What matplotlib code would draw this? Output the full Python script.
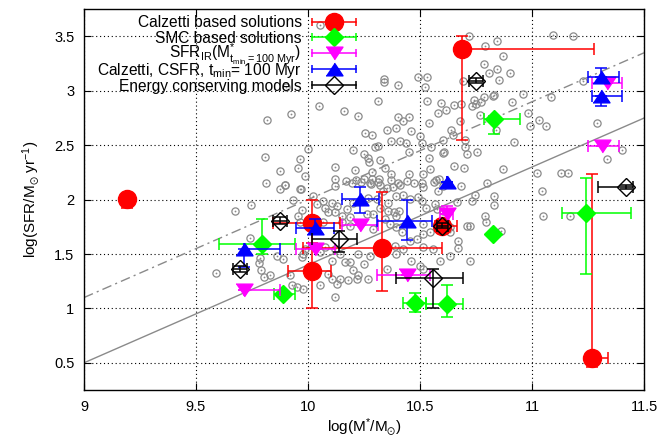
import matplotlib
matplotlib.use('Agg')
import matplotlib.pyplot as plt

plt.rcParams['font.family'] = ['Liberation Sans', 'DejaVu Sans']
plt.rcParams['mathtext.fontset'] = 'custom'
plt.rcParams['mathtext.rm'] = 'Liberation Sans'
plt.rcParams['mathtext.it'] = 'Liberation Sans:italic'
plt.rcParams['mathtext.default'] = 'regular'

# ---------------- data ----------------
# background sample (grey circles)
gray_x = [9.815, 9.923, 10.05, 9.998, 9.807, 9.963, 9.875, 9.955, 9.987, 10.122, 10.122, 9.814, 9.899, 9.966, 9.874,
          10.787, 10.491, 10.531, 10.341, 10.341, 10.402, 10.522, 10.69, 10.787, 10.311, 10.531, 10.592, 10.653, 10.684,
          10.741, 10.751, 10.161, 10.222, 10.582, 10.616, 10.402, 10.452, 10.423, 10.542, 10.679, 10.391, 10.351, 10.461,
          10.254, 10.284, 10.638, 10.646, 10.501, 10.371, 10.412, 10.439, 10.311, 10.301, 10.509, 10.549, 10.701, 10.601,
          10.609, 10.452, 10.542, 10.71, 10.202, 10.251, 10.269, 10.321, 10.274, 10.21, 10.284, 10.344, 10.653, 10.695,
          10.545, 10.452, 10.371, 10.515, 10.371, 10.318, 10.284, 10.17, 10.214, 10.251, 10.571, 10.583, 10.507, 10.403,
          10.321, 10.281, 10.381,
          10.72, 11.092, 11.182, 10.79, 10.842, 10.869, 10.842, 10.809, 10.902, 10.853, 10.961, 10.824, 10.832, 10.733,
          10.772, 10.912, 10.768, 10.982, 11.031, 11.064, 10.991, 11.083, 11.229, 11.292, 10.838, 10.604, 10.702, 10.921,
          10.753, 11.40, 11.333,
          10.872, 11.021, 11.13, 11.162, 10.80, 10.832, 10.832, 11.043, 10.792, 11.05, 11.17, 10.862,
          9.897, 9.967, 10.12, 10.195, 10.235, 10.276, 10.314, 10.351, 10.41, 10.44, 10.473, 10.515, 10.562, 10.604,
          10.581, 10.683, 9.934, 10.023, 10.068, 10.038, 10.076, 10.105, 10.128, 10.202, 10.269, 10.306, 10.336, 10.358,
          10.395, 10.425, 10.455, 10.492, 10.358, 10.384, 10.407, 10.395, 10.291, 10.172, 10.15, 10.187, 10.12, 10.09,
          9.971, 9.956, 9.964, 10.068, 10.15, 10.187, 10.262, 10.321, 10.291, 10.343, 10.366, 10.395, 10.418, 10.515,
          10.507, 10.567, 10.529, 10.574, 10.604, 10.663, 10.73, 10.745, 10.794, 10.723, 10.634, 10.634, 10.671, 10.708,
          10.544, 10.515, 10.485, 10.455, 10.515, 10.559, 10.425, 10.388, 10.395, 10.462, 10.5, 10.515, 10.589, 10.634,
          10.723, 10.671, 10.351, 10.276, 10.224, 10.251, 10.187, 10.202, 10.224, 10.165, 10.143, 10.12, 10.076, 10.053,
          10.105, 9.986, 9.979, 9.971, 9.86, 9.89, 10.09, 10.105, 10.143, 10.18, 10.217, 10.269, 10.053, 10.128, 9.949,
          9.979, 9.927, 10.12, 9.919, 9.83,
          9.744, 9.674, 9.741, 9.786, 9.783, 9.79, 9.804, 9.589,
          10.054, 9.90]
gray_y = [2.729, 2.79, 2.857, 2.47, 2.39, 2.372, 2.266, 2.29, 2.22, 2.30, 2.186, 2.15, 2.134, 2.10, 2.095,
          3.247, 3.131, 3.131, 3.11, 3.085, 3.058, 3.04, 3.09, 2.942, 2.909, 2.909, 2.887, 2.872, 2.88,
          2.918, 2.878, 2.811, 2.765, 2.80, 2.82, 2.76, 2.76, 2.72, 2.704, 2.72, 2.659, 2.643, 2.634,
          2.613, 2.598, 2.637, 2.598, 2.589, 2.543, 2.543, 2.522, 2.497, 2.482, 2.522, 2.485, 2.482, 2.43,
          2.44, 2.44, 2.381, 2.424, 2.452, 2.42, 2.385, 2.36, 2.345, 2.269, 2.253, 2.29, 2.312, 2.29,
          2.278, 2.232, 2.232, 2.232, 2.18, 2.186, 2.186, 2.171, 2.177, 2.193, 2.18, 2.186, 2.15, 2.15,
          2.132, 2.141, 2.116,
          3.505, 3.518, 3.505, 3.414, 3.457, 3.32, 3.198, 3.162, 3.162, 3.10, 2.973, 2.954, 2.963, 2.863,
          2.902, 2.902, 2.775, 2.80, 2.729, 2.68, 2.68, 2.948, 3.09, 2.704, 2.637, 2.546, 2.546, 2.531,
          2.442, 2.461, 2.37,
          2.284, 2.248, 2.241, 2.241, 2.15, 2.034, 1.952, 2.08, 1.851, 1.851, 1.851, 1.714,
          2.132, 2.095, 2.126, 2.15, 2.162, 2.156, 2.162, 2.11, 2.132, 2.171, 2.156, 2.12, 2.162, 2.126,
          2.08, 2.126, 1.998, 2.034, 1.988, 1.958, 1.927, 1.967, 1.943, 1.973, 2.019, 2.004, 2.08, 1.973,
          2.034, 2.04, 2.01, 2.028, 1.897, 1.882, 1.897, 1.851, 1.866, 1.912, 1.851, 1.836, 1.882, 1.882,
          1.903, 1.851, 1.79, 1.79, 1.79, 1.76, 1.866, 1.927, 1.73, 1.821, 1.775, 1.745, 1.699, 1.775,
          1.988, 1.958, 1.927, 1.912, 1.897, 1.979, 1.988, 2.04, 1.79, 1.76, 1.745, 1.699, 1.623, 1.76,
          1.699, 1.684, 1.638, 1.623, 1.562, 1.547, 1.547, 1.577, 1.501, 1.44, 1.394, 1.364, 1.44, 1.486,
          1.44, 1.556, 1.364, 1.486, 1.501, 1.41, 1.425, 1.349, 1.303, 1.425, 1.501, 1.547, 1.562, 1.516,
          1.44, 1.547, 1.501, 1.47, 1.486, 1.455, 1.318, 1.272, 1.272, 1.257, 1.272, 1.272, 1.211, 1.227, 1.196,
          1.181, 1.211, 1.105, 1.303, 1.303,
          1.955, 1.894, 1.644, 1.464, 1.419, 1.355, 1.288, 1.324,
          3.603, 3.034]

# Calzetti based solutions (red)
cal_x = [9.19, 10.689, 11.27, 10.016, 10.016, 10.329, 10.599]
cal_y = [2.01, 3.381, 0.547, 1.781, 1.348, 1.556, 1.76]
cal_xlo = [0.0, 0.0, 0.0, 0.171, 0.104, 0.35, 0.032]
cal_xhi = [0.0, 0.589, 0.07, 0.126, 0.086, 0.267, 0.064]
cal_ylo = [0.09, 0.835, 0.087, 0.23, 0.344, 0.399, 0.03]
cal_yhi = [0.0, 0.124, 1.69, 0.217, 0.25, 0.518, 0.05]

# SMC based solutions (green)
smc_x = [9.793, 9.89, 10.477, 10.619, 10.824, 10.832, 11.241]
smc_y = [1.592, 1.135, 1.05, 1.044, 1.684, 2.741, 1.875]
smc_xlo = [0.189, 0.04, 0.052, 0.09, 0.0, 0.045, 0.105]
smc_xhi = [0.149, 0.05, 0.052, 0.071, 0.0, 0.114, 0.2]
smc_ylo = [0.091, 0.0, 0.082, 0.122, 0.0, 0.134, 0.563]
smc_yhi = [0.229, 0.0, 0.094, 0.174, 0.0, 0.03, 0.323]

# SFR_IR (magenta)
ir_x = [9.716, 10.031, 10.232, 10.44, 10.619, 11.314, 11.333]
ir_y = [1.172, 1.547, 1.766, 1.303, 1.867, 2.497, 3.076]
ir_xlo = [0.0, 0.085, 0.082, 0.131, 0.03, 0.066, 0.067]
ir_xhi = [0.159, 0.09, 0.082, 0.104, 0.03, 0.076, 0.067]
ir_ylo = [0.0, 0.0, 0.0, 0.0, 0.0, 0.0, 0.0]
ir_yhi = [0.0, 0.0, 0.0, 0.0, 0.076, 0.0, 0.0]

# Calzetti, CSFR, t_min = 100 Myr (blue)
csfr_x = [9.716, 10.031, 10.232, 10.44, 10.619, 11.308, 11.308]
csfr_y = [1.547, 1.735, 2.004, 1.806, 2.162, 3.131, 2.954]
csfr_xlo = [0.0, 0.085, 0.082, 0.131, 0.0, 0.06, 0.038]
csfr_xhi = [0.159, 0.085, 0.086, 0.115, 0.0, 0.08, 0.092]
csfr_ylo = [0.168, 0.0, 0.131, 0.177, 0.0, 0.0, 0.091]
csfr_yhi = [0.0, 0.086, 0.116, 0.188, 0.0, 0.082, 0.0]

# Energy conserving models (black open diamonds)
en_x = [9.697, 9.875, 10.138, 10.559, 10.599, 10.75, 11.418]
en_y = [1.364, 1.806, 1.638, 1.278, 1.76, 3.094, 2.116]
en_xlo = [0.03, 0.03, 0.122, 0.164, 0.025, 0.03, 0.125]
en_xhi = [0.03, 0.03, 0.082, 0.131, 0.025, 0.03, 0.034]
en_ylo = [0.03, 0.03, 0.122, 0.274, 0.025, 0.02, 0.02]
en_yhi = [0.03, 0.03, 0.076, 0.08, 0.025, 0.02, 0.02]

# reference relations
rel_x = [9.0, 11.5]
rel_solid_y = [0.5, 2.75]
rel_dashdot_y = [1.1, 3.35]

x_ticks = [9, 9.5, 10, 10.5, 11, 11.5]
x_ticklabels = ['9', '9.5', '10', '10.5', '11', '11.5']
y_ticks = [0.5, 1, 1.5, 2, 2.5, 3, 3.5]
y_ticklabels = ['0.5', '1', '1.5', '2', '2.5', '3', '3.5']

labels = ['Calzetti based solutions',
          'SMC based solutions',
          r'SFR$_{IR}$(M$^{*}_{t_{min}=100\ Myr}$)',
          r'Calzetti, CSFR, t$_{min}$= 100 Myr',
          'Energy conserving models']

# ---------------- figure ----------------
W, H = 663, 441
fig = plt.figure(figsize=(W / 100, H / 100), dpi=100)
ax_l, ax_r, ax_t, ax_b = 84, 644, 9.3, 390
ax = fig.add_axes([ax_l / W, 1 - ax_b / H, (ax_r - ax_l) / W, (ax_b - ax_t) / H])

ax.set_xlim(9, 11.5)
ax.set_ylim(0.25, 3.75)

ax.grid(True, color='black', linestyle=(0, (1, 2.5)), linewidth=0.8)
ax.set_axisbelow(True)

gcol = '#8a8a8a'
ax.plot(rel_x, rel_solid_y, color=gcol, lw=1.0, zorder=1.5)
ax.plot(rel_x, rel_dashdot_y, color=gcol, lw=1.0, dashes=(7, 3, 1.5, 3), zorder=1.5)

ax.plot(gray_x, gray_y, 'o', ms=5.2, mfc='none', mec=gcol, mew=0.9, zorder=2)
ax.plot(gray_x, gray_y, 'o', ms=1.3, mfc=gcol, mec=gcol, mew=0, zorder=2)

tri_up = [(-1, -0.75), (1, -0.75), (0, 0.75)]
tri_dn = [(-1, 0.75), (1, 0.75), (0, -0.75)]

styles = [
    dict(color='#ff0000', marker='o', ms=13, mfc='#ff0000'),
    dict(color='#00ff00', marker='D', ms=8.7, mfc='#00ff00'),
    dict(color='#ff00ff', marker=tri_dn, ms=12.2, mfc='#ff00ff'),
    dict(color='#0000ff', marker=tri_up, ms=12.2, mfc='#0000ff'),
    dict(color='#000000', marker='D', ms=8.7, mfc='none'),
]
series = [
    (cal_x, cal_y, cal_xlo, cal_xhi, cal_ylo, cal_yhi),
    (smc_x, smc_y, smc_xlo, smc_xhi, smc_ylo, smc_yhi),
    (ir_x, ir_y, ir_xlo, ir_xhi, ir_ylo, ir_yhi),
    (csfr_x, csfr_y, csfr_xlo, csfr_xhi, csfr_ylo, csfr_yhi),
    (en_x, en_y, en_xlo, en_xhi, en_ylo, en_yhi),
]

for i, ((x, y, xlo, xhi, ylo, yhi), st) in enumerate(zip(series, styles)):
    ax.errorbar(x, y, xerr=[xlo, xhi], yerr=[ylo, yhi], fmt='none',
                ecolor=st['color'], elinewidth=1.1, capsize=4.5, capthick=1.1,
                zorder=3 + i)
    ax.plot(x, y, ls='none', marker=st['marker'], ms=st['ms'], mfc=st['mfc'],
            mec=st['color'], mew=1.0, zorder=3.5 + i)

# ---------------- key (gnuplot style: text right-aligned, sample on the right) ----------------
axw = ax_r - ax_l
axh = ax_b - ax_t
def fx(px):
    return (px - ax_l) / axw
def fy(py):
    return (ax_b - py) / axh

row_py = [21.7, 37.5, 53.3, 69.1, 84.9]
text_px = 301.7
h0, h1, hm = 311.7, 355.7, 333.7
for py, lab, st in zip(row_py, labels, styles):
    ax.text(fx(text_px), fy(py + 5.7), lab, transform=ax.transAxes,
            ha='right', va='baseline', fontsize=11.2, zorder=10)
    ax.plot([fx(h0), fx(h1)], [fy(py), fy(py)], color=st['color'], lw=1.1,
            transform=ax.transAxes, zorder=10)
    ax.plot([fx(h0), fx(h1)], [fy(py), fy(py)], ls='none', marker='|', ms=5.5,
            mew=1.1, color=st['color'], transform=ax.transAxes, zorder=10)
    ax.plot([fx(hm)], [fy(py)], ls='none', marker=st['marker'], ms=st['ms'],
            mfc=st['mfc'], mec=st['color'], mew=1.0, transform=ax.transAxes, zorder=11)

ax.set_xticks(x_ticks)
ax.set_xticklabels(x_ticklabels)
ax.set_yticks(y_ticks)
ax.set_yticklabels(y_ticklabels)
ax.tick_params(direction='in', top=True, right=True, length=5, width=0.8,
               labelsize=10.5, pad=7)
for s in ax.spines.values():
    s.set_linewidth(1.0)

ax.set_xlabel(r'log(M$^{*}$/M$_{\odot}$)', fontsize=11, labelpad=2)
ax.set_ylabel(r'log(SFR/M$_{\odot}$ yr$^{-1}$)', fontsize=11, labelpad=8)

fig.savefig('out.png', dpi=100)
